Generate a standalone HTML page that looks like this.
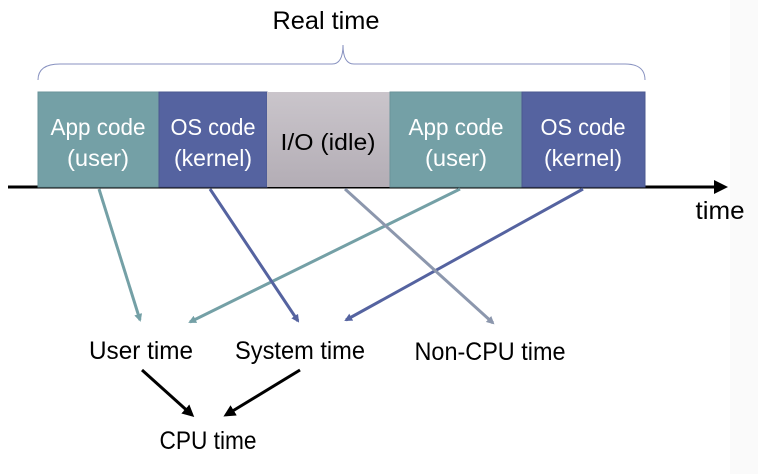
<!DOCTYPE html>
<html><head><meta charset="utf-8"><style>
html,body{margin:0;padding:0;background:#fff;}
svg{display:block;}
text{font-family:"Liberation Sans",sans-serif;}
</style></head><body>
<svg width="758" height="474" viewBox="0 0 758 474" xmlns="http://www.w3.org/2000/svg">
<defs>
<marker id="mt" markerWidth="8" markerHeight="8" refX="6" refY="4" orient="auto" markerUnits="userSpaceOnUse" viewBox="0 0 8 8"><path d="M0,0 L8,4 L0,8 z" fill="#74a0a6"/></marker>
<marker id="mb" markerWidth="8" markerHeight="8" refX="6" refY="4" orient="auto" markerUnits="userSpaceOnUse" viewBox="0 0 8 8"><path d="M0,0 L8,4 L0,8 z" fill="#5563a0"/></marker>
<marker id="mg" markerWidth="8" markerHeight="8" refX="6" refY="4" orient="auto" markerUnits="userSpaceOnUse" viewBox="0 0 8 8"><path d="M0,0 L8,4 L0,8 z" fill="#8c97ad"/></marker>
<marker id="mk" markerWidth="12" markerHeight="12" refX="9" refY="6" orient="auto" markerUnits="userSpaceOnUse" viewBox="0 0 12 12"><path d="M0,0 L12,6 L0,12 z" fill="#000"/></marker>
<linearGradient id="gio" x1="0" y1="0" x2="0" y2="1"><stop offset="0" stop-color="#cac5cb"/><stop offset="1" stop-color="#b3adb5"/></linearGradient>
</defs>
<rect x="730" y="0" width="28" height="474" fill="#fafafa"/>
<text x="326" y="29" font-size="25" text-anchor="middle" textLength="107" lengthAdjust="spacingAndGlyphs">Real time</text>
<path d="M38,80 Q38,64 60,64 L332,64 Q343,64 343,45 Q343,64 354,64 L625,64 Q645,64 645,80" fill="none" stroke="#8892c0" stroke-width="1"/>
<line x1="8" y1="187" x2="718" y2="187" stroke="#000" stroke-width="3"/>
<path d="M714,180 L728,187 L714,194 z" fill="#000"/>
<rect x="38" y="92" width="121" height="95" fill="#74a0a6" stroke="#6a939a" stroke-width="1"/>
<rect x="159" y="92" width="108" height="95" fill="#5563a0" stroke="#4b5890" stroke-width="1"/>
<rect x="267" y="92" width="123" height="95" fill="url(#gio)"/>
<rect x="390" y="92" width="132" height="95" fill="#74a0a6" stroke="#6a939a" stroke-width="1"/>
<rect x="522" y="92" width="123" height="95" fill="#5563a0" stroke="#4b5890" stroke-width="1"/>
<g fill="#fff" font-size="23" text-anchor="middle">
<text x="98" y="135" textLength="95" lengthAdjust="spacingAndGlyphs">App code</text>
<text x="98" y="166" textLength="62" lengthAdjust="spacingAndGlyphs">(user)</text>
<text x="213" y="135" textLength="85" lengthAdjust="spacingAndGlyphs">OS code</text>
<text x="213" y="166" textLength="78" lengthAdjust="spacingAndGlyphs">(kernel)</text>
<text x="456" y="135" textLength="95" lengthAdjust="spacingAndGlyphs">App code</text>
<text x="456" y="166" textLength="62" lengthAdjust="spacingAndGlyphs">(user)</text>
<text x="583" y="135" textLength="85" lengthAdjust="spacingAndGlyphs">OS code</text>
<text x="583" y="166" textLength="78" lengthAdjust="spacingAndGlyphs">(kernel)</text>
</g>
<text x="328" y="150" font-size="23" text-anchor="middle" fill="#000" textLength="95" lengthAdjust="spacingAndGlyphs">I/O  (idle)</text>
<text x="720" y="219" font-size="25" text-anchor="middle" textLength="49" lengthAdjust="spacingAndGlyphs">time</text>
<g stroke-width="3" fill="none">
<line x1="99" y1="189" x2="140" y2="320" stroke="#74a0a6" marker-end="url(#mt)"/>
<line x1="460" y1="189" x2="190" y2="322" stroke="#74a0a6" marker-end="url(#mt)"/>
<line x1="210" y1="189" x2="298" y2="321" stroke="#5563a0" marker-end="url(#mb)"/>
<line x1="583" y1="189" x2="346" y2="320" stroke="#5563a0" marker-end="url(#mb)"/>
<line x1="345" y1="189" x2="493" y2="323" stroke="#8c97ad" marker-end="url(#mg)"/>
<line x1="142" y1="370" x2="192" y2="415" stroke="#000" marker-end="url(#mk)"/>
<line x1="300" y1="370" x2="226" y2="415" stroke="#000" marker-end="url(#mk)"/>
</g>
<g font-size="25" text-anchor="middle" fill="#000">
<text x="141" y="359" textLength="104" lengthAdjust="spacingAndGlyphs">User time</text>
<text x="300" y="359" textLength="130" lengthAdjust="spacingAndGlyphs">System time</text>
<text x="490" y="360" textLength="151" lengthAdjust="spacingAndGlyphs">Non-CPU time</text>
<text x="208" y="449" textLength="97" lengthAdjust="spacingAndGlyphs">CPU time</text>
</g>
</svg>
</body></html>
